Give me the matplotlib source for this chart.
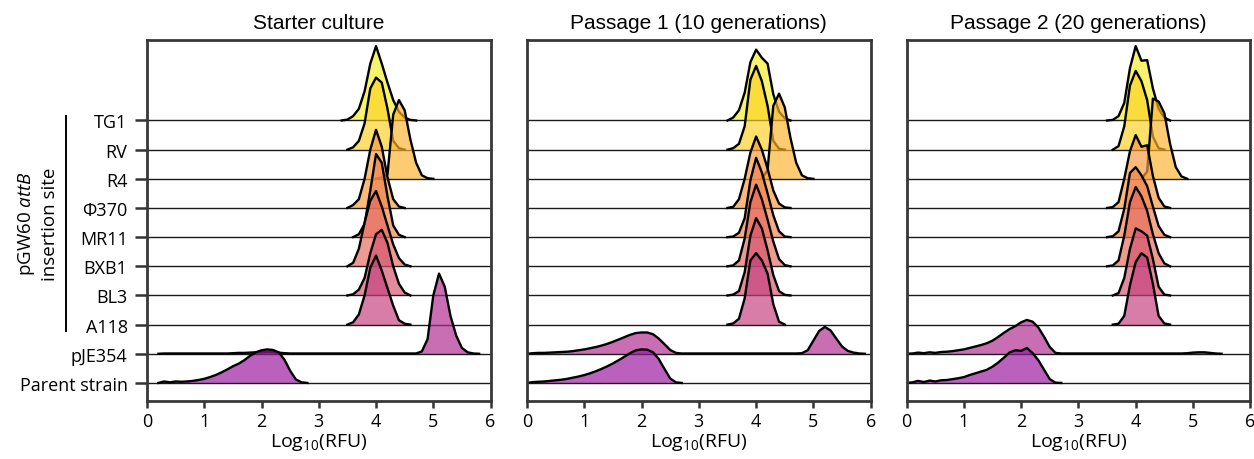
"""Ridgeline plots of log10 fluorescence for each pGW60 attB insertion site over passages."""

import numpy as np
import matplotlib
matplotlib.use("Agg")
import matplotlib.pyplot as plt

# rows from bottom (0) to top (9)
rows = ["Parent strain", "pJE354", "A118", "BL3", "BXB1", "MR11", "Φ370", "R4", "RV", "TG1"]
titles = ["Starter culture", "Passage 1 (10 generations)", "Passage 2 (20 generations)"]
x_ticks = [0, 1, 2, 3, 4, 5, 6]
step = 0.1  # heights below are read every 0.1 log10 units, in row-spacing units

# ---- Starter culture ----
s0_from = [0.2, 0.2, 3.5, 3.5, 3.5, 3.6, 3.5, 4.0, 3.5, 3.4]
s0_parent = [0, 0.05, 0.02, 0.05, 0.04, 0.05, 0.07, 0.1, 0.14, 0.2, 0.27, 0.36, 0.46, 0.57,
             0.66, 0.78, 0.93, 1.05, 1.12, 1.15, 1.13, 1.05, 0.8, 0.42, 0.12, 0.02, 0]
s0_pje354 = [0, 0.01, 0.01, 0.01, 0.01, 0.01, 0.01, 0.01, 0.01, 0.01, 0.01, 0.01, 0.01,
             0.02, 0.03, 0.03, 0.04, 0.05, 0.05, 0.06, 0.05, 0.04, 0.02, 0.01,
             0.01, 0.01, 0.01, 0.01, 0.01, 0.01, 0.01, 0.01, 0.01, 0.01, 0.01, 0.01, 0.01,
             0.01, 0.01, 0.01, 0.01, 0.01, 0.01, 0.01, 0.01,
             0.01, 0.08, 0.5, 2.0, 2.75, 2.3, 1.3, 0.62, 0.2, 0.05, 0.01, 0]
s0_a118 = [0, 0.08, 0.35, 1.0, 1.95, 2.37, 1.85, 1.25, 0.65, 0.15, 0.03, 0]
s0_bl3 = [0, 0.04, 0.2, 0.6, 1.45, 2.1, 2.25, 1.8, 1.0, 0.4, 0.1, 0]
s0_bxb1 = [0, 0.12, 0.6, 1.5, 2.25, 2.58, 2.05, 1.4, 0.75, 0.28, 0.06, 0]
s0_mr11 = [0, 0.1, 0.45, 1.6, 2.85, 2.55, 1.4, 0.4, 0.08, 0]
s0_phi370 = [0, 0.1, 0.3, 1.0, 2.0, 2.68, 2.1, 1.05, 0.3, 0.05, 0]
s0_r4 = [0, 0.05, 0.15, 2.2, 2.7, 2.35, 1.35, 0.55, 0.12, 0.02, 0]
s0_rv = [0, 0.08, 0.3, 0.9, 2.1, 2.47, 2.3, 1.4, 0.3, 0.05, 0]
s0_tg1 = [0, 0.03, 0.15, 0.4, 1.0, 1.95, 2.55, 1.95, 1.3, 0.7, 0.3, 0.1, 0.02, 0]

# ---- Passage 1 ----
s1_from = [0.0, 0.0, 3.5, 3.5, 3.5, 3.5, 3.5, 4.1, 3.5, 3.5]
s1_parent = [0, 0.03, 0.04, 0.05, 0.07, 0.09, 0.11, 0.14, 0.18, 0.22, 0.27, 0.33, 0.4, 0.48,
             0.57, 0.67, 0.78, 0.9, 1.02, 1.12, 1.15, 1.14, 1.05, 0.82, 0.48, 0.15, 0.02, 0]
s1_pje354 = [0, 0.02, 0.03, 0.03, 0.04, 0.05, 0.06, 0.07, 0.09, 0.12, 0.15, 0.19, 0.23, 0.28,
             0.34, 0.41, 0.49, 0.57, 0.65, 0.71, 0.73, 0.73, 0.67, 0.52, 0.33, 0.13, 0.03,
             0.01, 0.01, 0.01, 0.01, 0.01, 0.01, 0.01, 0.01, 0.01, 0.01, 0.01, 0.01, 0.01,
             0.01, 0.01, 0.01, 0.01, 0.01, 0.01, 0.01, 0.01,
             0.02, 0.12, 0.45, 0.78, 0.92, 0.8, 0.52, 0.25, 0.1, 0.04, 0.01, 0]
s1_a118 = [0, 0.04, 0.2, 0.9, 2.2, 2.45, 2.2, 1.75, 0.7, 0.1, 0]
s1_bl3 = [0, 0.03, 0.15, 0.8, 2.05, 2.65, 2.3, 1.55, 0.7, 0.15, 0.02, 0]
s1_bxb1 = [0, 0.03, 0.2, 0.95, 2.2, 2.8, 2.3, 1.6, 0.85, 0.25, 0.04, 0]
s1_mr11 = [0, 0.02, 0.15, 0.65, 1.95, 2.72, 2.22, 1.5, 0.75, 0.2, 0.02, 0]
s1_phi370 = [0, 0.04, 0.3, 1.0, 1.9, 2.45, 2.0, 1.35, 0.6, 0.15, 0.02, 0]
s1_r4 = [0, 0.3, 2.5, 2.92, 2.45, 1.4, 0.55, 0.12, 0.02, 0]
s1_rv = [0, 0.05, 0.2, 0.8, 2.4, 2.87, 2.35, 1.5, 0.3, 0.03, 0]
s1_tg1 = [0, 0.1, 0.35, 0.95, 2.0, 2.43, 2.15, 1.95, 0.9, 0.3, 0.08, 0]

# ---- Passage 2 ----
s2_from = [0.0, 0.0, 3.6, 3.6, 3.5, 3.5, 3.5, 4.1, 3.6, 3.5]
s2_parent = [0, 0.02, 0.07, 0.03, 0.08, 0.05, 0.09, 0.1, 0.13, 0.16, 0.2, 0.27, 0.33, 0.39,
             0.45, 0.56, 0.7, 0.87, 1.05, 1.12, 1.1, 1.2, 1.02, 0.78, 0.45, 0.13, 0.01, 0]
s2_pje354 = [0, 0.01, 0.04, 0.02, 0.05, 0.03, 0.06, 0.07, 0.09, 0.12, 0.15, 0.2, 0.25, 0.3,
             0.36, 0.45, 0.58, 0.72, 0.85, 0.95, 1.08, 1.16, 1.1, 0.9, 0.58, 0.23, 0.03,
             0.01, 0.01, 0.01, 0.01, 0.01, 0.01, 0.01, 0.01, 0.01, 0.01, 0.01, 0.01, 0.01,
             0.01, 0.01, 0.01, 0.01, 0.01, 0.01, 0.01, 0.01, 0.01,
             0.02, 0.04, 0.05, 0.05, 0.03, 0.01, 0]
s2_a118 = [0, 0.03, 0.3, 1.35, 2.15, 2.45, 2.3, 1.4, 0.3, 0.04, 0]
s2_bl3 = [0, 0.08, 0.6, 1.6, 2.3, 2.2, 2.05, 1.25, 0.3, 0.03, 0]
s2_bxb1 = [0, 0.03, 0.2, 1.05, 2.2, 2.72, 2.4, 1.9, 1.1, 0.45, 0.1, 0]
s2_mr11 = [0, 0.03, 0.2, 0.97, 2.2, 2.4, 2.12, 1.75, 1.05, 0.38, 0.08, 0]
s2_phi370 = [0, 0.03, 0.2, 1.0, 1.95, 2.5, 2.1, 2.15, 1.1, 0.35, 0.05, 0]
s2_r4 = [0, 0.25, 2.75, 2.65, 2.25, 1.2, 0.4, 0.08, 0]
s2_rv = [0, 0.12, 0.8, 2.2, 2.7, 2.35, 1.7, 0.45, 0.05, 0]
s2_tg1 = [0, 0.02, 0.15, 0.6, 1.8, 2.55, 2.05, 2.07, 1.1, 0.4, 0.1, 0]

panels = [
    (s0_from, [s0_parent, s0_pje354, s0_a118, s0_bl3, s0_bxb1, s0_mr11, s0_phi370, s0_r4, s0_rv, s0_tg1]),
    (s1_from, [s1_parent, s1_pje354, s1_a118, s1_bl3, s1_bxb1, s1_mr11, s1_phi370, s1_r4, s1_rv, s1_tg1]),
    (s2_from, [s2_parent, s2_pje354, s2_a118, s2_bl3, s2_bxb1, s2_mr11, s2_phi370, s2_r4, s2_rv, s2_tg1]),
]


def main() -> None:
    plt.rcParams["font.family"] = ["Open Sans", "DejaVu Sans"]
    plt.rcParams["mathtext.fontset"] = "custom"
    plt.rcParams["mathtext.rm"] = "Open Sans"
    plt.rcParams["mathtext.it"] = "Open Sans:italic"

    colors = plt.cm.plasma(np.linspace(0.33, 0.98, len(rows)))

    fig = plt.figure(figsize=(12.54, 4.6), dpi=100)
    lefts = [0.1172, 0.4203, 0.7230]
    for k, (left, title, (starts, curves)) in enumerate(zip(lefts, titles, panels)):
        ax = fig.add_axes([left, 0.1267, 0.2740, 0.7848])
        for i in range(len(rows) - 1, -1, -1):
            h = np.array(curves[i])
            x = starts[i] + step * np.arange(len(h))
            z = 2 * (len(rows) - i)
            ax.fill_between(x, i, i + h, color=colors[i], alpha=0.68, lw=0, zorder=z)
            ax.plot([0, 6], [i, i], color="#1a1a1a", lw=1.0, zorder=z + 0.5)
            ax.plot(x, i + h, color="black", lw=1.7, zorder=z + 1, solid_joinstyle="round")

        ax.set_xlim(0, 6)
        ax.set_ylim(-0.61, 11.77)
        ax.set_xticks(x_ticks)
        ax.set_xticklabels([str(t) for t in x_ticks], fontsize=13)
        ax.set_xlabel("Log$_{10}$(RFU)", fontsize=14, labelpad=1)
        ax.text(0.5, 1.032, title, transform=ax.transAxes, ha="center", va="baseline",
                fontsize=15, family="Liberation Sans")
        ax.tick_params(axis="x", direction="out", length=5, width=1.8, pad=3, color="#333333")
        if k == 0:
            ax.set_yticks(range(len(rows)))
            ax.set_yticklabels(rows, fontsize=13)
            ax.tick_params(axis="y", direction="out", length=9, width=1.8, pad=5, color="#333333")
        else:
            ax.set_yticks([])
        for sp in ax.spines.values():
            sp.set_linewidth(2.0)
            sp.set_color("#383838")
            sp.set_zorder(100)

    # grouping label for the attB insertion sites
    fig.text(0.021, 0.513, "pGW60 $\\mathit{attB}$", rotation=90, ha="center", va="center", fontsize=13.5)
    fig.text(0.040, 0.513, "insertion site", rotation=90, ha="center", va="center", fontsize=13.5)
    fig.add_artist(plt.Line2D([0.0526, 0.0526], [0.278, 0.746], color="black", lw=1.4))

    fig.savefig("out.png", dpi=100)


if __name__ == "__main__":
    main()
